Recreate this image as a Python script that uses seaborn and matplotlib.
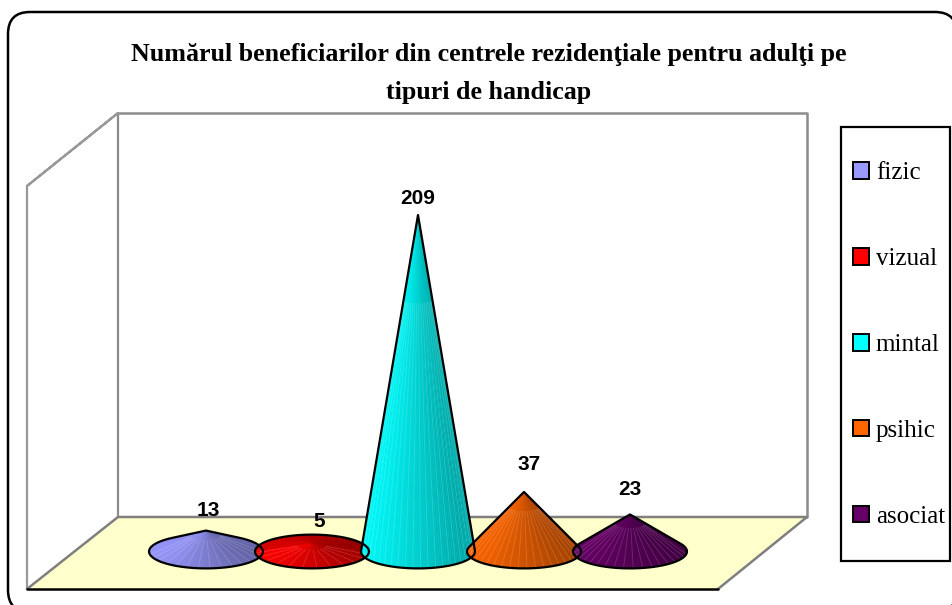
import numpy as np
import pandas as pd
import seaborn as sns
import matplotlib
matplotlib.use('Agg')
import matplotlib.pyplot as plt
from matplotlib.collections import PolyCollection, LineCollection
from matplotlib.patches import FancyBboxPatch, Polygon, Patch, Rectangle

tipuri = ['fizic', 'vizual', 'mintal', 'psihic', 'asociat']
valori = [13, 5, 209, 37, 23]
culori = ['#9999FF', '#FF0000', '#00FFFF', '#FF6600', '#660066']
titlu = ['Numărul beneficiarilor din centrele rezidenţiale pentru adulţi pe', 'tipuri de handicap']

sns.set_theme(style='white')
serif = 'Liberation Serif'
sans = 'Liberation Sans'

df = pd.DataFrame({'tip': tipuri, 'valoare': valori})

fig = plt.figure(figsize=(9.53, 6.05), dpi=100, facecolor='white')

# pixel canvas for the chart furniture (frame, walls, floor)
bg = fig.add_axes([0, 0, 1, 1], zorder=0)
bg.set_xlim(0, 953)
bg.set_ylim(605, 0)
bg.axis('off')

bg.add_patch(FancyBboxPatch((30, 34), 905, 556, boxstyle='round,pad=22,rounding_size=22',
                            fc='white', ec='black', lw=1.8, clip_on=False))
bg.add_patch(Polygon([(27, 589), (118, 517), (807, 517), (718, 589)], fc='#FFFFCC', ec='none'))
bg.plot([118, 807, 807], [113, 113, 517], color='#8c8c8c', lw=1.8)
bg.plot([118, 118], [113, 517], color='#8c8c8c', lw=1.6)
bg.plot([27, 118, 27, 27], [186, 113, 186, 589], color='#999999', lw=1.6)
bg.plot([27, 118, 807, 718], [589, 517, 517, 589], color='#7f7f7f', lw=1.8)
bg.plot([27, 718], [589, 589], color='black', lw=1.8)
bg.add_patch(Rectangle((841, 127), 109, 434, fc='white', ec='black', lw=1.6))

bg.text(489, 55, titlu[0], family=serif, weight='bold', fontsize=18.7, ha='center', va='center', color='black')
bg.text(489, 93, titlu[1], family=serif, weight='bold', fontsize=18.7, ha='center', va='center', color='black')

# cones sit on the bars seaborn lays out: x and height come from the bar patches
ax = fig.add_axes([153 / 953, 53.5 / 605, 530 / 953, 386.4 / 605], zorder=1)
ax.patch.set_alpha(0)
sns.barplot(data=df, x='tip', y='valoare', hue='tip', order=tipuri, hue_order=tipuri,
            palette=culori, dodge=False, width=1.075, legend=False, ax=ax)
ax.set_xlim(-0.5, 4.5)
ax.set_ylim(0, 240)
ax.axis('off')

adancime = 10.5  # ellipse half height, in value units
nudge = [(2, -20), (7, -22), (0, -17), (5, -27), (0, -25)]

for bar, culoare, (dx, dy) in zip(ax.patches, culori, nudge):
    cx = bar.get_x() + bar.get_width() / 2
    a = bar.get_width() / 2
    h = bar.get_height()
    bar.set_visible(False)

    if h > adancime:
        t0 = np.arcsin(adancime / h)
    else:
        t0 = np.pi / 2
    t = np.linspace(np.pi - t0, 2 * np.pi + t0, 73)
    xs = cx + a * np.cos(t)
    ys = adancime * np.sin(t)

    if h > adancime:
        contur = list(zip(xs, ys)) + [(cx, h)]
    else:
        tt = np.linspace(0, 2 * np.pi, 73)
        contur = list(zip(cx + a * np.cos(tt), adancime * np.sin(tt)))

    rgb = np.array(matplotlib.colors.to_rgb(culoare))
    facets = []
    shades = []
    # outer facets first, so the tip does not pile up the darkest shade
    ordine = sorted(range(len(t) - 1), key=lambda i: -abs(np.cos((t[i] + t[i + 1]) / 2)))
    for i in ordine:
        facets.append([(cx, h), (xs[i], ys[i]), (xs[i + 1], ys[i + 1])])
        tm = (t[i] + t[i + 1]) / 2
        f = 1 - 0.38 * (np.cos(tm) + 1) / 2
        if h <= adancime and np.sin(tm) > 0:
            f = f * 0.85
        shades.append(tuple(rgb * f))
    # mid shade underneath so the facet seams do not show the floor too much
    ax.add_patch(Polygon(contur, closed=True, fc=tuple(rgb * 0.85), ec='none', clip_on=False, zorder=3))
    ax.add_collection(PolyCollection(facets, facecolors=shades, edgecolors='none', linewidths=0, clip_on=False, zorder=3))

    streaks = [[(cx + (xs[i] - cx) * 0.25, h + (ys[i] - h) * 0.25), (xs[i], ys[i])]
               for i in range(1, len(t) - 1, 3) if ys[i] < 0]
    ax.add_collection(LineCollection(streaks, colors='white', alpha=0.15, linewidths=0.7, clip_on=False, zorder=4))

    ax.add_patch(Polygon(contur, closed=True, fc='none', ec='black', lw=1.6, joinstyle='round', clip_on=False, zorder=5))

    ax.annotate(str(int(h)), xy=(cx, h), xytext=(dx, -dy), textcoords='offset pixels',
                family=sans, weight='bold', fontsize=15, ha='center', va='center',
                color='black', zorder=6, annotation_clip=False)

handles = [Patch(fc=c, ec='black', lw=1.4, label=l) for c, l in zip(culori, tipuri)]
fig.legend(handles=handles, loc='center left', bbox_to_anchor=(841 / 953, 1 - 345 / 605),
           frameon=False, prop={'family': serif, 'size': 18}, labelcolor='black', borderaxespad=0, borderpad=0.47,
           handlelength=0.64, handleheight=0.64, handletextpad=0.28, labelspacing=2.55)

fig.savefig('out.png', dpi=100)
